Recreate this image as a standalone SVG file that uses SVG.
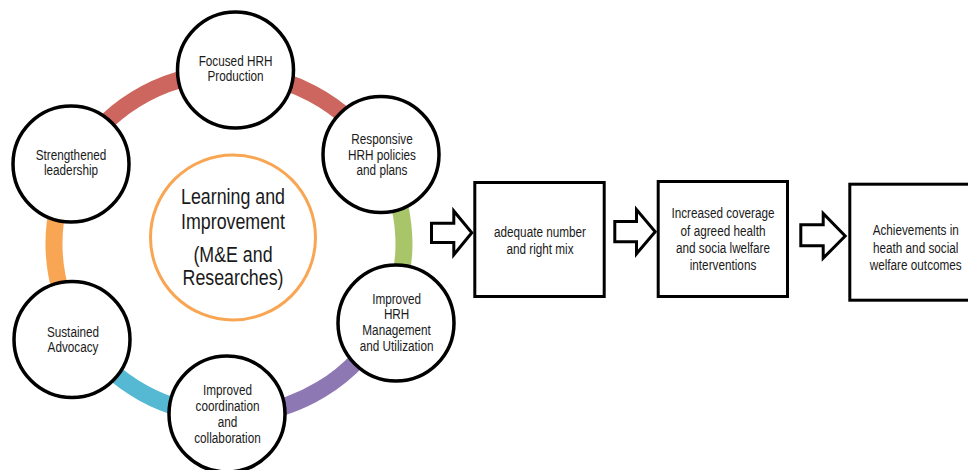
<svg xmlns="http://www.w3.org/2000/svg" width="968" height="470" viewBox="0 0 968 470">
<style>
.bg{fill:#ffffff}
.seg{fill:none;stroke-width:17;stroke-linecap:butt}
.node{fill:#ffffff;stroke:#000000;stroke-width:3.5}
.hub{fill:#ffffff;stroke:#F8A654;stroke-width:3}
.box{fill:#ffffff;stroke:#000000;stroke-width:3}
.arr{fill:#ffffff;stroke:#000000;stroke-width:3;stroke-linejoin:miter}
.t{font-family:"Liberation Sans",Arial,sans-serif;font-size:14.5px;fill:#1a1a1a;text-anchor:middle}
.big{font-family:"Liberation Sans",Arial,sans-serif;font-size:22px;fill:#1a1a1a;text-anchor:middle}
</style>
<rect class="bg" x="0" y="0" width="968" height="470"/>
<g id="ring">
<path class="seg" stroke="#CD665E" d="M73.6,165.3 A175,171 0 0 1 378.8,155.6"/>
<path class="seg" stroke="#A9C56A" d="M378.8,155.6 A175,171 0 0 1 386.5,318.4"/>
<path class="seg" stroke="#8E78B4" d="M386.5,318.4 A175,171 0 0 1 226.9,415"/>
<path class="seg" stroke="#55B9D3" d="M226.9,415 A175,171 0 0 1 80.4,334.3"/>
<path class="seg" stroke="#F8A654" d="M80.4,334.3 A175,171 0 0 1 73.6,165.3"/>
</g>
<g id="connectors">
<path class="arr" d="M431.5,223.2 H453.8 V211 L471.8,232.8 L453.8,254.8 V242.5 H431.5 Z"/>
<path class="arr" d="M614.8,221.5 H636.5 V209.5 L655.2,231.7 L636.5,253.8 V241.8 H614.8 Z"/>
<path class="arr" d="M800.8,224.8 H823.2 V213.5 L845.2,236 L823.2,258.2 V245.8 H800.8 Z"/>
</g>
<g id="hub">
<circle class="hub" cx="233" cy="237.5" r="82.5"/>
<text class="big" transform="translate(233 0) scale(0.81 1)"><tspan x="0" y="204">Learning and</tspan><tspan x="0" y="229">Improvement</tspan><tspan x="0" y="262">(M&amp;E and</tspan><tspan x="0" y="285">Researches)</tspan></text>
</g>
<g id="focused">
<circle class="node" cx="235.5" cy="70" r="58"/>
<text class="t" transform="translate(235.5 0) scale(0.81 1)"><tspan x="0" y="66">Focused HRH</tspan><tspan x="0" y="81">Production</tspan></text>
</g>
<g id="responsive">
<circle class="node" cx="381" cy="154.5" r="58"/>
<text class="t" transform="translate(382 0) scale(0.81 1)"><tspan x="0" y="144">Responsive</tspan><tspan x="0" y="159.5">HRH policies</tspan><tspan x="0" y="175">and plans</tspan></text>
</g>
<g id="management">
<circle class="node" cx="396" cy="323" r="58"/>
<text class="t" transform="translate(396.6 0) scale(0.81 1)"><tspan x="0" y="304">Improved</tspan><tspan x="0" y="319.5">HRH</tspan><tspan x="0" y="335.5">Management</tspan><tspan x="0" y="351.5">and Utilization</tspan></text>
</g>
<g id="coordination">
<circle class="node" cx="227" cy="414" r="58"/>
<text class="t" transform="translate(227.5 0) scale(0.81 1)"><tspan x="0" y="395.5">Improved</tspan><tspan x="0" y="411">coordination</tspan><tspan x="0" y="427">and</tspan><tspan x="0" y="443">collaboration</tspan></text>
</g>
<g id="advocacy">
<circle class="node" cx="72" cy="339.5" r="58"/>
<text class="t" transform="translate(73 0) scale(0.81 1)"><tspan x="0" y="337">Sustained</tspan><tspan x="0" y="352">Advocacy</tspan></text>
</g>
<g id="leadership">
<circle class="node" cx="71" cy="164" r="58"/>
<text class="t" transform="translate(71 0) scale(0.81 1)"><tspan x="0" y="160.5">Strengthened</tspan><tspan x="0" y="175.5">leadership</tspan></text>
</g>
<g id="box-mix">
<rect class="box" x="474.8" y="182.5" width="129.4" height="114"/>
<text class="t" transform="translate(540 0) scale(0.81 1)"><tspan x="0" y="237">adequate number</tspan><tspan x="0" y="254">and right mix</tspan></text>
</g>
<g id="box-coverage">
<rect class="box" x="658.2" y="181.5" width="129.3" height="115"/>
<text class="t" transform="translate(723 0) scale(0.81 1)"><tspan x="0" y="218.5">Increased coverage</tspan><tspan x="0" y="236">of  agreed health</tspan><tspan x="0" y="253.5">and socia lwelfare</tspan><tspan x="0" y="270.5">interventions</tspan></text>
</g>
<g id="box-outcomes">
<rect class="box" x="849.8" y="184.2" width="140" height="116"/>
<text class="t" transform="translate(915.7 0) scale(0.81 1)"><tspan x="0" y="235.5">Achievements in</tspan><tspan x="0" y="253">heath and social</tspan><tspan x="0" y="270">welfare outcomes</tspan></text>
</g>
</svg>
